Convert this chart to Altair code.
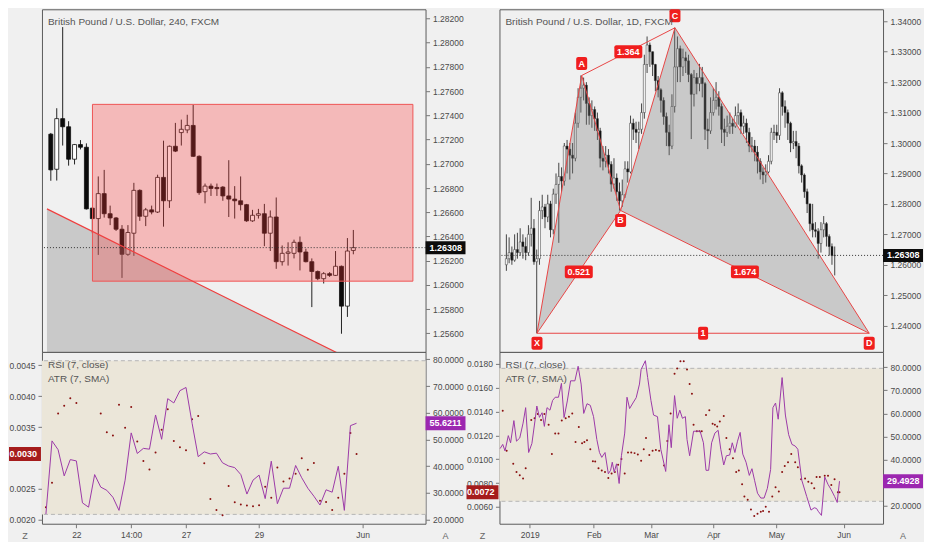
import altair as alt
import pandas as pd

FONT = "Liberation Sans Narrow, Liberation Sans, Arial, sans-serif"
BG = "#f0f0f0"
TAN = "#ebe6d9"
PURPLE = "#9c3aa8"
PURPLE_TAG = "#9c27b0"
ATR_C = "#8a1010"
ATR_TAG = "#a51c1c"
RED = "#ef3f3f"
W, HP, HI = 384, 343, 172

LAST_PRICE = 1.26308
LAST_TEXT = "1.26308"
RSI_BAND = [22.0, 79.5]

# ---------------- Left panel: 240 ----------------
L_TITLE = "British Pound / U.S. Dollar, 240, FXCM"
L_OPEN = [12724.5, 12695.5, 12737.3, 12730.6, 12703.8, 12715.9, 12713.7, 12663.4, 12654.8, 12675.4,
          12658.8, 12655.3, 12646.0, 12625.3, 12642.7, 12678.1, 12656.7, 12662.0, 12660.2, 12688.8,
          12669.5, 12714.5, 12725.8, 12728.0, 12731.7, 12706.2, 12677.0, 12681.6, 12680.5, 12680.8,
          12673.5, 12670.9, 12669.5, 12666.3, 12652.9, 12657.5, 12658.8, 12642.7, 12656.1, 12619.2,
          12626.1, 12626.1, 12635.2, 12627.2, 12619.2, 12611.1, 12605.2, 12609.3, 12607.9, 12615.4,
          12582.5, 12628.5]
L_HIGH = [12725.5, 12745.9, 12812.9, 12735.2, 12716.4, 12719.6, 12716.9, 12663.9, 12689.6, 12695.0,
          12665.5, 12656.1, 12649.4, 12649.4, 12684.3, 12678.9, 12663.6, 12665.5, 12691.0, 12719.1,
          12715.1, 12733.8, 12736.5, 12740.5, 12748.6, 12707.0, 12683.7, 12683.7, 12683.7, 12681.6,
          12703.0, 12681.6, 12689.6, 12666.9, 12662.0, 12662.8, 12666.9, 12661.5, 12672.2, 12632.6,
          12635.2, 12637.4, 12640.0, 12629.9, 12621.9, 12611.9, 12610.6, 12610.6, 12628.0, 12616.0,
          12638.7, 12645.4]
L_LOW = [12686.0, 12686.2, 12715.1, 12698.5, 12699.5, 12711.9, 12662.3, 12642.7, 12624.8, 12655.6,
         12649.4, 12644.6, 12605.8, 12624.0, 12624.0, 12652.9, 12648.6, 12658.3, 12659.4, 12648.1,
         12663.6, 12709.7, 12715.1, 12725.3, 12705.7, 12674.4, 12667.4, 12673.5, 12673.5, 12669.5,
         12656.1, 12654.8, 12661.5, 12652.1, 12652.1, 12654.8, 12632.0, 12628.0, 12613.3, 12616.0,
         12616.0, 12621.9, 12612.0, 12618.6, 12581.7, 12603.9, 12601.2, 12606.6, 12607.4, 12559.7,
         12573.6, 12625.3]
L_CLOSE = [12695.0, 12737.3, 12730.6, 12703.8, 12715.9, 12713.7, 12662.8, 12654.8, 12675.4, 12658.8,
           12655.3, 12646.0, 12625.3, 12643.3, 12678.1, 12656.7, 12662.0, 12660.2, 12688.8, 12669.5,
           12714.5, 12710.5, 12728.5, 12731.7, 12706.2, 12676.2, 12681.6, 12679.7, 12679.5, 12673.5,
           12670.9, 12669.5, 12666.3, 12652.9, 12657.5, 12658.8, 12642.7, 12656.1, 12619.2, 12626.1,
           12627.2, 12635.2, 12627.2, 12619.2, 12611.1, 12605.2, 12609.3, 12607.9, 12615.4, 12582.5,
           12628.0, 12630.8]
L_RSI = [22.1, 49.5, 46.2, 36.4, 42.5, 42.0, 26.3, 24.7, 36.9, 32.2,
         31.0, 28.4, 23.5, 34.8, 52.5, 44.8, 46.7, 46.4, 59.2, 50.1,
         65.3, 63.7, 68.3, 69.5, 56.1, 43.6, 45.4, 44.6, 44.9, 41.3,
         40.1, 39.5, 36.9, 29.6, 34.8, 36.7, 27.9, 41.9, 26.0, 31.8,
         31.8, 40.3, 35.7, 31.8, 28.8, 25.5, 31.2, 30.3, 40.0, 23.5,
         55.2, 56.1]
L_ATR = [22.05, 26.0, 37.21, 38.47, 39.68, 38.89, None, None, None, 37.21,
         34.16, 33.63, 38.63, 34.89, 38.26, 32.68, 29.53, 28.16, 30.89, 34.58,
         37.89, 32.74, 31.74, 31.26, 36.26, 36.79, 29.16, 23.37, 21.58, 20.74,
         25.47, 22.84, 22.47, 22.32, 22.21, 22.37, 25.37, 23.58, 28.47, 26.21,
         26.68, 27.47, 29.95, 28.1, 29.21, 23.1, 22.89, 21.58, 23.58, 27.47,
         34.05, 30.63]
L_RSI_TAG = "55.6211"
L_ATR_TAG = "0.0030"
L_XDOM = [-0.65, 62.33]
L_PDOM = [1.25447, 1.28276]
L_PTICKS = [1.256, 1.258, 1.260, 1.262, 1.264, 1.266, 1.268, 1.270, 1.272, 1.274, 1.276, 1.278, 1.280, 1.282]
L_RSI_DOM = [18.5, 82.8]
L_RSI_TICKS = [20, 30, 40, 50, 60, 70, 80]
L_ATR_DOM = [0.001937, 0.004716]
L_ATR_TICKS = [0.0020, 0.0025, 0.0035, 0.0040, 0.0045]
L_TPOS = [5, 14, 23, 35, 52]
L_TLBL = ["22", "14:00", "27", "29", "Jun"]
L_BOX_I = [7.02, 61.04]
L_BOX_P = [1.26031, 1.27491]
L_TREND_I = [-0.65, 52.0]
L_TREND_P = [1.26628, 1.25349]

# ---------------- Right panel: 1D ----------------
R_TITLE = "British Pound / U.S. Dollar, 1D, FXCM"
R_OPEN = [12600, 12620, 12640, 12615, 12650, 12640, 12675, 12660, 12640, 12700,
          12720, 12610, 12620, 12778, 12790, 12757, 12800, 12715, 12832, 12864,
          12890, 12875, 12990, 12980, 12960, 12950, 13065, 13150, 13180, 13190,
          13130, 13090, 13110, 13080, 13040, 12950, 12940, 12960, 12930, 12865,
          12885, 12840, 12810, 12830, 12915, 12905, 13065, 13045, 13035, 13045,
          13100, 13258, 13322, 13300, 13258, 13205, 13175, 13140, 13087, 13035,
          12990, 13120, 13250, 13310, 13250, 13280, 13270, 13225, 13160, 13215,
          13195, 13215, 13195, 13045, 13040, 13100, 13140, 13150, 13120, 13045,
          13035, 13055, 13065, 13055, 13090, 13100, 13055, 13065, 13035, 12990,
          12990, 12970, 12940, 12905, 12895, 12905, 12940, 13035, 13035, 13025,
          13165, 13120, 13100, 13065, 13000, 13005, 12990, 12925, 12895, 12840,
          12800, 12735, 12715, 12710, 12670, 12715, 12735, 12693, 12660, 12630]
R_HIGH = [12700, 12690, 12660, 12700, 12705, 12720, 12700, 12690, 12730, 12820,
          12750, 12650, 12810, 12830, 12800, 12830, 12810, 12850, 12900, 12935,
          12920, 13000, 13010, 13000, 13000, 13100, 13180, 13222, 13215, 13200,
          13150, 13140, 13120, 13100, 13050, 12990, 12990, 12980, 12940, 12950,
          12900, 12870, 12880, 12940, 12940, 13090, 13080, 13070, 13070, 13130,
          13290, 13350, 13330, 13300, 13260, 13220, 13180, 13150, 13100, 13060,
          13160, 13379, 13350, 13320, 13310, 13300, 13290, 13230, 13240, 13230,
          13260, 13250, 13200, 13080, 13150, 13180, 13200, 13170, 13130, 13080,
          13090, 13100, 13080, 13120, 13130, 13110, 13090, 13080, 13050, 13020,
          13010, 12990, 12950, 12920, 12930, 12960, 13050, 13060, 13060, 13180,
          13170, 13140, 13110, 13070, 13040, 13040, 13000, 12930, 12900, 12850,
          12800, 12800, 12740, 12720, 12740, 12760, 12740, 12700, 12670, 12660]
R_LOW = [12580, 12605, 12600, 12610, 12620, 12630, 12620, 12615, 12630, 12660,
         12600, 12375, 12600, 12750, 12720, 12740, 12690, 12700, 12800, 12672,
         12840, 12860, 12900, 12880, 12900, 12940, 13050, 13100, 13140, 13060,
         13060, 13050, 13040, 13010, 12920, 12910, 12920, 12900, 12840, 12850,
         12810, 12778, 12790, 12820, 12870, 12900, 13010, 13000, 12980, 13030,
         13080, 13230, 13250, 13220, 13170, 13150, 13100, 13060, 12990, 12960,
         12980, 13100, 13200, 13200, 13220, 13230, 13200, 13013, 13120, 13160,
         13170, 13150, 13010, 12980, 13030, 13090, 13110, 13090, 13000, 12990,
         13020, 13030, 13030, 13050, 13060, 13030, 13030, 13000, 12970, 12970,
         12940, 12900, 12880, 12865, 12870, 12900, 12930, 13010, 13000, 13010,
         13090, 13050, 13010, 12970, 12980, 12950, 12900, 12870, 12820, 12770,
         12710, 12690, 12690, 12620, 12640, 12690, 12660, 12630, 12600, 12565]
R_CLOSE = [12620, 12640, 12615, 12650, 12640, 12675, 12660, 12640, 12700, 12720,
           12610, 12620, 12778, 12790, 12757, 12800, 12715, 12832, 12864, 12890,
           12875, 12990, 12980, 12960, 12950, 13065, 13150, 13180, 13190, 13130,
           13090, 13110, 13080, 13040, 12950, 12940, 12960, 12930, 12865, 12885,
           12840, 12810, 12830, 12915, 12905, 13065, 13045, 13035, 13045, 13100,
           13258, 13322, 13300, 13258, 13205, 13175, 13140, 13087, 13035, 12990,
           13120, 13250, 13310, 13250, 13280, 13270, 13225, 13160, 13215, 13195,
           13215, 13195, 13045, 13040, 13100, 13140, 13150, 13120, 13045, 13035,
           13055, 13065, 13055, 13090, 13100, 13055, 13065, 13035, 12990, 12990,
           12970, 12940, 12905, 12895, 12905, 12940, 13035, 13035, 13025, 13165,
           13120, 13100, 13065, 13000, 13005, 12990, 12925, 12895, 12840, 12800,
           12735, 12715, 12710, 12670, 12715, 12735, 12693, 12660, 12630, 12631]
R_RSI_I = [-0.46, 0.46, 1.27, 2.43, 3.24, 4.40, 5.32, 6.48, 7.64, 8.56,
           9.61, 10.76, 11.92, 12.5, 13.43, 14.35, 15.16, 16.09, 17.13, 18.06,
           18.98, 20.14, 21.18, 22.11, 23.26, 24.42, 25.93, 27.08, 28.13, 29.05,
           30.21, 31.37, 32.52, 33.68, 34.61, 35.42, 36.57, 37.73, 38.54, 39.12,
           39.81, 40.63, 41.55, 42.36, 43.52, 44.33, 45.25, 46.41, 47.57, 48.73,
           49.31, 50.81, 51.62, 52.78, 53.70, 55.09, 56.25, 57.99, 59.14, 59.95,
           61.11, 62.04, 62.96, 63.89, 64.93, 65.51, 66.44, 67.82, 68.98, 70.14,
           71.30, 72.22, 73.15, 74.19, 75.35, 76.50, 77.43, 78.47, 79.40, 80.56,
           81.48, 82.41, 83.33, 84.26, 85.19, 86.34, 87.50, 88.43, 89.35, 90.39,
           91.55, 92.71, 93.87, 95.02, 95.83, 96.76, 97.69, 99.07, 100.23, 101.39,
           102.55, 103.70, 104.63, 106.02, 107.75, 109.26, 110.42, 111.23, 111.81, 112.96,
           114.12, 115.28, 116.44, 117.59, 118.52, 119.33]
R_RSI_V = [44.8, 46.6, 43.8, 50.4, 47.3, 56.9, 48.0, 49.4, 55.8, 62.5,
           43.1, 47.0, 57.5, 63.2, 58.3, 60.3, 54.4, 62.5, 61.4, 65.6,
           67.0, 67.0, 73.0, 58.2, 65.4, 74.1, 74.1, 80.4, 72.7, 60.0,
           64.2, 63.5, 58.6, 48.7, 43.1, 41.0, 43.1, 33.9, 35.4, 38.9,
           34.6, 38.2, 29.7, 41.7, 51.5, 67.0, 62.1, 64.5, 66.8, 72.7,
           79.0, 82.8, 75.5, 65.6, 59.3, 58.6, 44.5, 34.9, 55.1, 45.2,
           67.7, 57.9, 61.4, 57.9, 58.6, 48.7, 41.7, 52.3, 52.3, 52.3,
           47.3, 35.4, 35.4, 47.3, 51.5, 52.7, 44.5, 37.7, 41.7, 42.0,
           47.3, 43.1, 48.0, 51.8, 42.4, 38.9, 33.2, 36.1, 31.1, 25.5,
           23.4, 23.4, 27.6, 35.8, 62.5, 64.5, 57.5, 75.5, 59.3, 50.8,
           46.6, 45.9, 44.5, 31.1, 24.1, 18.2, 19.2, 18.9, 17.7, 15.9,
           32.5, 29.3, 26.9, 24.1, 21.5, 30.7]
R_ATR_I = [0.46, 1.85, 4.17, 5.32, 6.48, 7.64, 8.56, 10.53, 11.69, 12.85,
           14.0, 15.16, 16.67, 17.82, 18.98, 20.14, 21.3, 22.69, 23.84, 25.0,
           26.16, 27.31, 28.47, 29.28, 30.21, 31.37, 32.29, 33.1, 34.26, 35.42,
           36.57, 37.73, 38.89, 40.05, 41.2, 42.36, 43.52, 44.68, 45.83, 46.99,
           48.15, 49.31, 50.23, 51.04, 52.2, 53.36, 54.51, 55.67, 57.41, 58.56,
           59.72, 61.11, 62.04, 63.19, 64.35, 65.51, 66.44, 67.25, 67.82, 68.98,
           69.91, 70.72, 72.22, 73.38, 74.54, 75.35, 76.16, 77.08, 78.47, 79.4,
           80.56, 81.71, 82.87, 83.8, 84.95, 85.76, 86.92, 88.08, 89.24, 90.39,
           91.55, 92.36, 93.29, 94.44, 95.6, 96.76, 97.92, 99.07, 100.0, 101.16,
           102.31, 103.7, 104.63, 105.79, 107.18, 108.33, 109.49, 110.42, 111.23, 112.38,
           114.12, 115.28, 116.44, 117.59, 118.75, 119.33]
R_ATR_V = [140.6, 107.0, 96.1, 89.2, 86.5, 83.8, 92.5, 133.0, 134.3, 137.9,
           133.0, 137.9, 128.9, 104.3, 121.5, 121.5, 132.4, 134.3, 135.7, 138.4,
           114.4, 127.0, 113.3, 114.4, 116.0, 108.4, 98.3, 98.0, 92.5, 90.6,
           89.2, 84.3, 87.9, 89.2, 95.3, 100.2, 87.9, 105.6, 105.6, 105.1,
           104.0, 98.8, 108.4, 117.9, 103.5, 107.0, 107.8, 107.0, 94.7, 115.2,
           138.4, 171.8, 176.2, 182.2, 182.2, 175.4, 163.1, 154.9, 128.9, 123.4,
           123.4, 123.4, 137.1, 141.2, 129.7, 128.9, 127.5, 131.6, 136.3, 117.9,
           108.4, 100.7, 89.2, 90.6, 78.9, 68.7, 66.0, 57.8, 52.3, 54.2,
           55.9, 56.4, 60.0, 55.9, 68.7, 76.4, 72.8, 89.2, 94.2, 97.4,
           104.3, 97.4, 93.3, 83.2, 83.8, 81.0, 79.7, 75.6, 85.1, 85.1,
           86.0, 86.0, 78.3, 83.2, 72.3, 72.3]
R_RSI_TAG = "29.4928"
R_ATR_TAG = "0.0072"
R_XDOM = [-0.69, 134.7]
R_PDOM = [1.23137, 1.34393]
R_PTICKS = [1.24, 1.25, 1.26, 1.27, 1.28, 1.29, 1.30, 1.31, 1.32, 1.33, 1.34]
R_RSI_DOM = [12.3, 86.6]
R_RSI_TICKS = [20, 40, 50, 60, 70, 80]
R_ATR_DOM = [0.004581, 0.019009]
R_ATR_TICKS = [0.0060, 0.0080, 0.0100, 0.0120, 0.0140, 0.0160, 0.0180]
R_TPOS = [10, 32.6, 52.8, 74.8, 97, 120.8]
R_TLBL = ["2019", "Feb", "Mar", "Apr", "May", "Jun"]
PAT_NAME = ["X", "A", "B", "C", "D"]
PAT_I = [11.1, 27.3, 41.4, 61.1, 131.5]
PAT_P = [1.2375, 1.32218, 1.27783, 1.33785, 1.2375]
PAT_LINES = [("X", "A"), ("A", "B"), ("B", "C"), ("C", "D"), ("X", "B"), ("A", "C"), ("B", "D"), ("X", "D")]
PAT_TRI = [("X", "A", "B"), ("B", "C", "D")]
PAT_RATIO = [("A", "C", "1.364"), ("X", "B", "0.521"), ("B", "D", "1.674"), ("X", "D", "1")]


def tick_expr(pos, lbl):
    parts = [f"datum.value == {p} ? '{l}'" for p, l in zip(pos, lbl)]
    return " : ".join(parts) + " : ''"


def candle_df(o, h, l, c):
    return pd.DataFrame({
        "i": list(range(len(o))),
        "open": [v / 1e4 for v in o], "high": [v / 1e4 for v in h],
        "low": [v / 1e4 for v in l], "close": [v / 1e4 for v in c],
        "dir": ["up" if cc >= oo else "down" for oo, cc in zip(o, c)],
    })


def make_xy(xdom, ydom, pticks):
    xs = alt.Scale(domain=xdom, nice=False, zero=False)
    ys = alt.Scale(domain=ydom, nice=False, zero=False)
    yax = alt.Axis(orient="right", values=pticks, format=".5f", title=None, tickSize=4, labelPadding=3)

    def X(f="i:Q"):
        return alt.X(f, scale=xs, axis=None)

    def Y(f):
        return alt.Y(f, scale=ys, axis=yax)
    return X, Y


def candle_layers(cdf, X, Y, bw, up_fill, body_stroke, body_sw, wick_color):
    wick = alt.Chart(cdf).mark_rule(color=wick_color, strokeWidth=1).encode(
        x=X(), y=Y("low:Q"), y2="high:Q")
    body = alt.Chart(cdf).mark_bar(size=bw, stroke=body_stroke, strokeWidth=body_sw).encode(
        x=X(), y=Y("open:Q"), y2="close:Q",
        color=alt.Color("dir:N", scale=alt.Scale(domain=["up", "down"], range=[up_fill, "#0b0b0b"]), legend=None))
    return [wick, body]


def price_extras(Y, title):
    pdf = pd.DataFrame({"p": [LAST_PRICE], "t": [LAST_TEXT]})
    pline = alt.Chart(pdf).mark_rule(color="#333333", strokeDash=[1, 2], strokeWidth=1).encode(y=Y("p:Q"))
    box = alt.Chart(pdf).mark_rect(color="#0c0c0c", yOffset=-6.5, y2Offset=6.5).encode(
        x=alt.value(W), x2=alt.value(W + 40), y=Y("p:Q"), y2="p:Q")
    txt = alt.Chart(pdf).mark_text(align="left", baseline="middle", dx=4, color="white",
                                   fontWeight="bold", fontSize=9).encode(x=alt.value(W), y=Y("p:Q"), text="t:N")
    ttl = alt.Chart(pd.DataFrame({"t": [title]})).mark_text(
        align="left", baseline="middle", fontSize=10, color="#555555").encode(
        x=alt.value(6), y=alt.value(13), text="t:N")
    return [pline, box, txt, ttl]


def ind_pane(rsi_i, rsi_v, atr_i, atr_v, xdom, rdom, rticks, adom, aticks, tpos, tlbl, rsi_tag, atr_tag):
    xs = alt.Scale(domain=xdom, nice=False, zero=False)
    rs = alt.Scale(domain=rdom, nice=False, zero=False)
    as_ = alt.Scale(domain=adom, nice=False, zero=False)
    Xa = alt.X("i:Q", scale=xs, axis=alt.Axis(orient="bottom", values=tpos, labelExpr=tick_expr(tpos, tlbl),
                                              title=None, tickSize=4, labelPadding=3))
    Xn = alt.X("i:Q", scale=xs, axis=None)
    rsi_df = pd.DataFrame({"i": rsi_i, "rsi": rsi_v})
    atr_df = pd.DataFrame({"i": atr_i, "atr": atr_v}).dropna()
    band = alt.Chart(pd.DataFrame({"lo": [RSI_BAND[0]], "hi": [RSI_BAND[1]]})).mark_rect(color=TAN).encode(
        x=alt.value(0), x2=alt.value(W), y=alt.Y("lo:Q", scale=rs, axis=None), y2="hi:Q")
    dashes = alt.Chart(pd.DataFrame({"v": RSI_BAND})).mark_rule(color="#b5b5b5", strokeDash=[4, 3]).encode(
        y=alt.Y("v:Q", scale=rs, axis=None))
    dots = alt.Chart(atr_df).mark_circle(size=4, color=ATR_C, opacity=1).encode(
        x=Xn, y=alt.Y("atr:Q", scale=as_, axis=alt.Axis(orient="left", values=aticks, format=".4f",
                                                        title=None, tickSize=4, labelPadding=3)))
    line = alt.Chart(rsi_df).mark_line(color=PURPLE, strokeWidth=1).encode(
        x=Xa, y=alt.Y("rsi:Q", scale=rs, axis=alt.Axis(orient="right", values=rticks, format=".4f",
                                                       title=None, tickSize=4, labelPadding=3)))
    rt = pd.DataFrame({"v": [rsi_v[-1]], "t": [rsi_tag]})
    rY = alt.Y("v:Q", scale=rs, axis=None)
    rbox = alt.Chart(rt).mark_rect(color=PURPLE_TAG, yOffset=-7, y2Offset=7).encode(
        x=alt.value(W), x2=alt.value(W + 40), y=rY, y2="v:Q")
    rtxt = alt.Chart(rt).mark_text(align="left", baseline="middle", dx=4, color="white", fontWeight="bold",
                                   fontSize=9).encode(x=alt.value(W), y=rY, text="t:N")
    at = pd.DataFrame({"v": [atr_df["atr"].iloc[-1]], "t": [atr_tag]})
    aY = alt.Y("v:Q", scale=as_, axis=None)
    abox = alt.Chart(at).mark_rect(color=ATR_TAG, yOffset=-7, y2Offset=7).encode(
        x=alt.value(-33), x2=alt.value(-1), y=aY, y2="v:Q")
    atxt = alt.Chart(at).mark_text(align="right", baseline="middle", dx=-5, color="white", fontWeight="bold",
                                   fontSize=9).encode(x=alt.value(0), y=aY, text="t:N")
    leg = alt.Chart(pd.DataFrame({"t": ["RSI (7, close)", "ATR (7, SMA)"], "k": [0, 1]})).mark_text(
        align="left", baseline="middle", fontSize=10, color="#555555").encode(
        x=alt.value(6), y=alt.Y("k:Q", scale=alt.Scale(domain=[0, 1], range=[13, 27]), axis=None), text="t:N")
    za = alt.Chart(pd.DataFrame({"t": ["Z", "A"], "k": [0, 1]})).mark_text(
        align="center", baseline="middle", fontSize=9, color="#666666").encode(
        x=alt.X("k:Q", scale=alt.Scale(domain=[0, 1], range=[-17, W + 20]), axis=None),
        y=alt.value(HI + 12), text="t:N")
    return alt.layer(band, dashes, dots, line, rbox, rtxt, abox, atxt, leg, za).resolve_scale(
        y="independent", x="independent").properties(width=W, height=HI)


# ----- left price pane -----
LX, LY = make_xy(L_XDOM, L_PDOM, L_PTICKS)
ldf = candle_df(L_OPEN, L_HIGH, L_LOW, L_CLOSE)
trend_df = pd.DataFrame({"i": L_TREND_I, "p": L_TREND_P, "base": [L_PDOM[0]] * len(L_TREND_I)})
gray = alt.Chart(trend_df).mark_area(color="#7a7a7a", opacity=0.33, clip=True).encode(
    x=LX(), y=LY("p:Q"), y2="base:Q")
trend = alt.Chart(trend_df).mark_line(color=RED, strokeWidth=1.2, clip=True).encode(x=LX(), y=LY("p:Q"))
box_df = pd.DataFrame({"i1": [L_BOX_I[0]], "i2": [L_BOX_I[1]], "p1": [L_BOX_P[0]], "p2": [L_BOX_P[1]]})
pink = alt.Chart(box_df).mark_rect(fill="#ff3b3b", fillOpacity=0.3, stroke="#ee5555", strokeWidth=1).encode(
    x=LX("i1:Q"), x2="i2:Q", y=LY("p1:Q"), y2="p2:Q")
pL = alt.layer(*candle_layers(ldf, LX, LY, 4, "#ffffff", "#111111", 0.8, "#222222"),
               gray, pink, trend, *price_extras(LY, L_TITLE)).properties(width=W, height=HP)

# ----- right price pane -----
RX, RY = make_xy(R_XDOM, R_PDOM, R_PTICKS)
rdf = candle_df(R_OPEN, R_HIGH, R_LOW, R_CLOSE)
pt = {n: (i, p) for n, i, p in zip(PAT_NAME, PAT_I, PAT_P)}


def on_line(a, b, x):
    (ia, pa), (ib, pb) = pt[a], pt[b]
    return pa + (pb - pa) * (x - ia) / (ib - ia)


tri_rows = []
for k, (a, m, b) in enumerate(PAT_TRI):
    tri_rows.append({"tri": k, "i": pt[a][0], "hi": pt[a][1], "lo": pt[a][1]})
    tri_rows.append({"tri": k, "i": pt[m][0], "hi": pt[m][1], "lo": on_line(a, b, pt[m][0])})
    tri_rows.append({"tri": k, "i": pt[b][0], "hi": pt[b][1], "lo": pt[b][1]})
tri_df = pd.DataFrame(tri_rows)
shade = alt.Chart(tri_df).mark_area(color="#7a7a7a", opacity=0.33).encode(
    x=RX(), y=RY("hi:Q"), y2="lo:Q", detail="tri:N")
seg_rows = []
for k, (a, b) in enumerate(PAT_LINES):
    for n in (a, b):
        seg_rows.append({"seg": k, "i": pt[n][0], "p": pt[n][1]})
seg_df = pd.DataFrame(seg_rows)
segs = alt.Chart(seg_df).mark_line(color="#e84545", strokeWidth=1).encode(
    x=RX(), y=RY("p:Q"), detail="seg:N")

pts = []
for k, n in enumerate(PAT_NAME):
    nb = [PAT_P[j] for j in (k - 1, k + 1) if 0 <= j < len(PAT_NAME)]
    pts.append({"n": n, "i": PAT_I[k], "p": PAT_P[k], "up": all(PAT_P[k] > v for v in nb)})
pts_df = pd.DataFrame(pts)
letter_layers = []
for up, dy in ((True, -12), (False, 10)):
    d = pts_df[pts_df["up"] == up]
    letter_layers.append(alt.Chart(d).mark_rect(color="#f01e1e", cornerRadius=2, xOffset=-5.5, x2Offset=5.5,
                                                yOffset=dy - 6.5, y2Offset=dy + 6.5).encode(
        x=RX(), x2="i:Q", y=RY("p:Q"), y2="p:Q"))
    letter_layers.append(alt.Chart(d).mark_text(color="white", fontSize=9, fontWeight="bold", dy=dy,
                                                baseline="middle").encode(
        x=RX(), y=RY("p:Q"), text="n:N"))
ratio_df = pd.DataFrame([{"t": t, "i": (pt[a][0] + pt[b][0]) / 2, "p": (pt[a][1] + pt[b][1]) / 2,
                          "wide": len(t) > 1} for a, b, t in PAT_RATIO])
ratio_layers = []
for wide, hw in ((True, 14), (False, 5)):
    d = ratio_df[ratio_df["wide"] == wide]
    ratio_layers.append(alt.Chart(d).mark_rect(color="#f01e1e", cornerRadius=2, xOffset=-hw, x2Offset=hw,
                                               yOffset=-6.5, y2Offset=6.5).encode(
        x=RX(), x2="i:Q", y=RY("p:Q"), y2="p:Q"))
    ratio_layers.append(alt.Chart(d).mark_text(color="white", fontSize=9, fontWeight="bold",
                                               baseline="middle").encode(
        x=RX(), y=RY("p:Q"), text="t:N"))

pR = alt.layer(*candle_layers(rdf, RX, RY, 2, "#b0b0b0", "#333333", 0.5, "#444444"),
               shade, segs, *ratio_layers, *letter_layers, *price_extras(RY, R_TITLE)).properties(width=W, height=HP)

iL = ind_pane(list(range(len(L_RSI))), L_RSI, list(range(len(L_ATR))),
              [None if v is None else v / 1e4 for v in L_ATR],
              L_XDOM, L_RSI_DOM, L_RSI_TICKS, L_ATR_DOM, L_ATR_TICKS, L_TPOS, L_TLBL, L_RSI_TAG, L_ATR_TAG)
iR = ind_pane(R_RSI_I, R_RSI_V, R_ATR_I, [v / 1e4 for v in R_ATR_V],
              R_XDOM, R_RSI_DOM, R_RSI_TICKS, R_ATR_DOM, R_ATR_TICKS, R_TPOS, R_TLBL, R_RSI_TAG, R_ATR_TAG)

chart = alt.concat(pL, pR, iL, iR, columns=2, spacing={"row": 0, "column": 74}, bounds="flush").properties(
    padding=0, background=BG
).configure_view(stroke="#5a5a5a", strokeWidth=1, fill=BG).configure_axis(
    labelFont=FONT, labelFontSize=8.5, labelColor="#4a4a4a", tickColor="#777777", domain=False, grid=False,
    labelFlush=False, labelOverlap=False
).configure_text(font=FONT)

chart.save("out.html", embed_options={"renderer": "svg", "actions": False})
